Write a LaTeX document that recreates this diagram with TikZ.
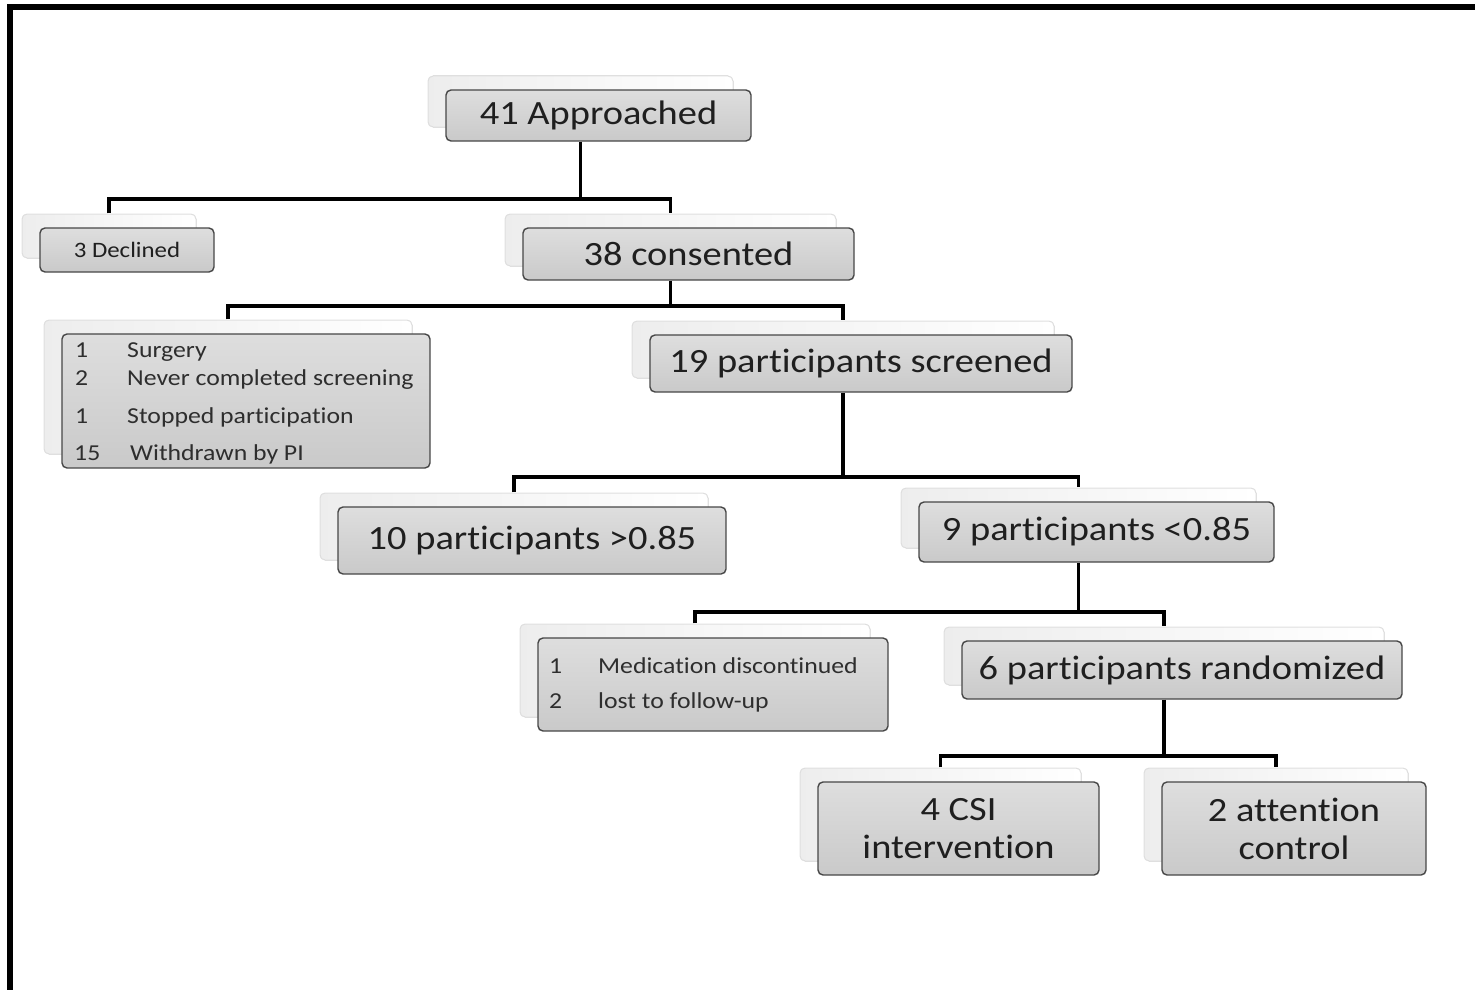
\documentclass[tikz,border=0pt]{standalone}
\usepackage{fontspec}
\setmainfont{Carlito}[FakeStretch=1.13,Ligatures=NoCommon]
\usetikzlibrary{shadows}
\begin{document}
\begin{tikzpicture}[x=1pt,y=-1pt,
  box/.style={draw=black!72, line width=1.4pt, rounded corners=5pt,
    top color=gray!26, bottom color=gray!42, text=black!88, inner sep=0pt,
    align=center, font=\fontsize{34}{38}\selectfont,
    copy shadow={shadow xshift=-18pt, shadow yshift=14pt, draw=gray!25, left color=gray!14, right color=white, line width=1pt}},
  small/.style={font=\fontsize{22}{26}\selectfont},
  itemtext/.style={anchor=base west, inner sep=0pt, text=black!82, font=\fontsize{22.8}{26}\selectfont},
  conn/.style={line width=3.5pt, line join=miter},
  frame/.style={line width=6pt, line join=miter}
]
\useasboundingbox (0,0) rectangle (1475,990);
\draw[frame] (10,990) -- (10,7) -- (1475,7);

% boxes
\node[box, minimum width=305pt, minimum height=51pt] (appr) at (598.5,115.5) {41 Approached};
\node[box, small, minimum width=174pt, minimum height=44pt] (decl) at (127,250) {3 Declined};
\node[box, minimum width=331pt, minimum height=52pt] (cons) at (688.5,254) {38 consented};
\node[box, minimum width=368pt, minimum height=134pt] (list) at (246,401) {};
\node[box, minimum width=422pt, minimum height=57pt] (scr) at (861,363.5) {19 participants screened};
\node[box, minimum width=388pt, minimum height=67pt] (gt) at (532,540.5) {10 participants >0.85};
\node[box, minimum width=355pt, minimum height=60pt] (lt) at (1096.5,532) {9 participants <0.85};
\node[box, minimum width=350pt, minimum height=93pt] (med) at (713,684.5) {};
\node[box, minimum width=440pt, minimum height=58pt] (rand) at (1182,670) {6 participants randomized};
\node[box, minimum width=281pt, minimum height=93pt] (csi) at (958.5,828.5) {4 CSI\\intervention};
\node[box, minimum width=264pt, minimum height=93pt] (att) at (1294,828.5) {2 attention\\control};

% list texts
\node[itemtext] (l1n) at (75,357) {1};
\node[itemtext] (l1t) at (127,357) {Surgery};
\node[itemtext] (l2n) at (75,385) {2};
\node[itemtext] (l2t) at (127,385) {Never completed screening};
\node[itemtext] (l3n) at (75,423) {1};
\node[itemtext] (l3t) at (127,423) {Stopped participation};
\node[itemtext] (l4n) at (74,460) {15};
\node[itemtext] (l4t) at (130,460) {Withdrawn by PI};
\node[itemtext] (m1n) at (549,673) {1};
\node[itemtext] (m1t) at (598,673) {Medication discontinued};
\node[itemtext] (m2n) at (549,708) {2};
\node[itemtext] (m2t) at (598,708) {lost to follow-up};

% anchor points (shadow centres)
\foreach \n in {appr,cons,scr,lt,rand}{
  \coordinate (\n-s) at ([xshift=-18pt]\n.south);
}
\foreach \n in {decl,cons,list,scr,gt,lt,med,rand,csi,att}{
  \coordinate (\n-t) at ([xshift=-18pt,yshift=14pt]\n.north);
}

% connectors
\draw[conn] (appr-s) -- (appr-s |- 0,199);
\draw[conn] (decl-t) -- (decl-t |- 0,199) -- (cons-t |- 0,199) -- (cons-t);
\draw[conn] (cons-s) -- (cons-s |- 0,306);
\draw[conn] (list-t) -- (list-t |- 0,306) -- (scr-t |- 0,306) -- (scr-t);
\draw[conn] (scr-s) -- (scr-s |- 0,477);
\draw[conn] (gt-t) -- (gt-t |- 0,477) -- (lt-t |- 0,477) -- (lt-t);
\draw[conn] (lt-s) -- (lt-s |- 0,612);
\draw[conn] (med-t) -- (med-t |- 0,612) -- (rand-t |- 0,612) -- (rand-t);
\draw[conn] (rand-s) -- (rand-s |- 0,756);
\draw[conn] (csi-t) -- (csi-t |- 0,756) -- (att-t |- 0,756) -- (att-t);
\end{tikzpicture}
\end{document}
